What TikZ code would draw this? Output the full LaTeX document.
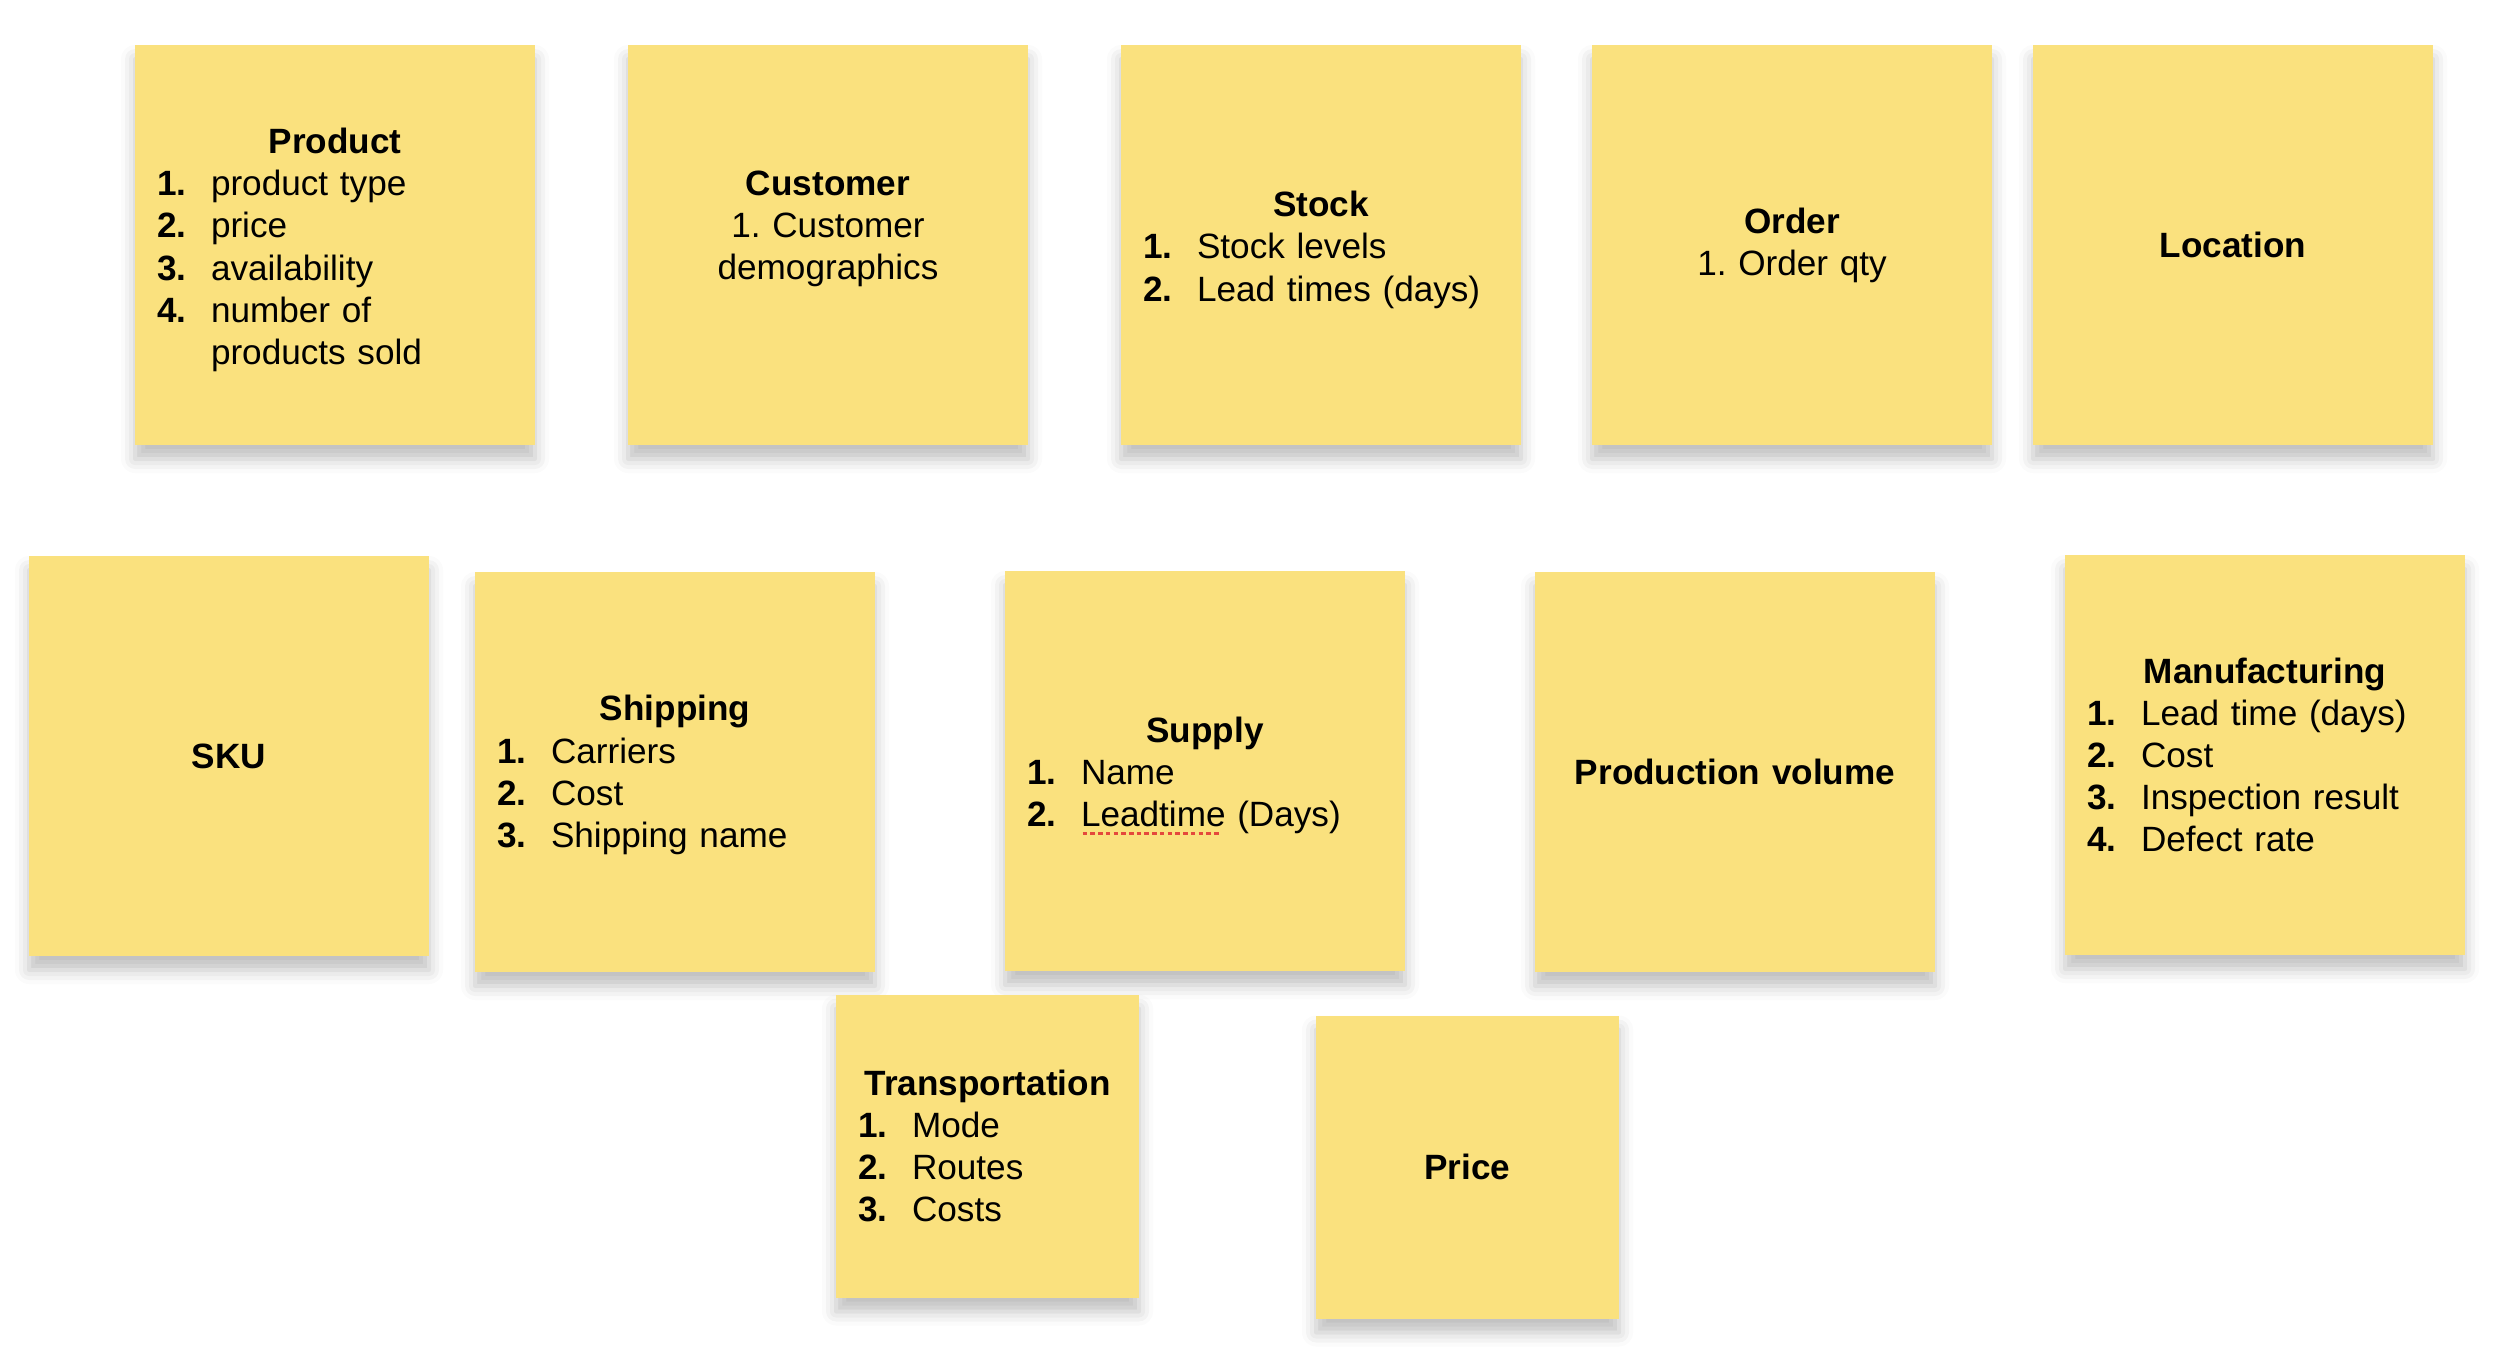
\documentclass[tikz,border=0pt]{standalone}
\usepackage{fontspec}
\setmainfont{Liberation Sans}
\usetikzlibrary{shadows.blur}
\definecolor{notey}{RGB}{250,225,126}
\definecolor{spellred}{RGB}{228,72,60}
\newcommand\ttl[2][0pt]{{\centering\bfseries\rule{0pt}{#1}#2\par}}
\newcommand\itm[2]{\par\noindent\makebox[0.54cm][l]{\bfseries #1.}#2}
\newcommand\cont[1]{\par\noindent\hspace*{0.54cm}#1}
\newcommand\spellmark[1]{\setbox0\hbox{#1}\rlap{\color{spellred}\raisebox{-2.4pt}{\leaders\hbox to 2.2pt{\hss\vrule width 1.3pt height 0.8pt\hss}\hskip\wd0}}#1}
\newcommand\padbelow[1]{\par\kern#1\nointerlineskip\hbox{}}

\begin{document}
\begin{tikzpicture}[
  note/.style={fill=notey, minimum width=4cm, minimum height=4cm, inner sep=0pt,
    text width=3.56cm, align=left, font=\fontsize{10}{12}\selectfont\frenchspacing,
    blur shadow={shadow xshift=0pt, shadow yshift=-0.14cm, shadow blur radius=0.14cm, shadow opacity=25}},
  smallnote/.style={note, minimum width=3.03cm, minimum height=3.03cm, text width=2.59cm}]
 \useasboundingbox (0,0) rectangle (25.04,-13.54); %frame
 % top row
 \node[note] (product) at (3.35,-2.45)
   {\ttl[10pt]{Product}\itm{1}{product type}\itm{2}{price}\itm{3}{availability}\itm{4}{number of}\cont{products sold}};
 \node[note] (customer) at (8.28,-2.45) {\ttl{Customer}{\centering 1. Customer\\demographics\par}\padbelow{9pt}};
 \node[note] (stock) at (13.21,-2.45) {\ttl[10pt]{Stock}\itm{1}{Stock levels}\itm{2}{Lead times (days)}};
 \node[note] (order) at (17.92,-2.45) {\ttl{Order}{\centering 1. Order qty\par}};
 \node[note] (location) at (22.33,-2.45) {\ttl{Location}};
 % middle row
 \node[note] (sku) at (2.29,-7.56) {\ttl{SKU}};
 \node[note] (shipping) at (6.75,-7.72) {\ttl[9pt]{Shipping}\itm{1}{Carriers}\itm{2}{Cost}\itm{3}{Shipping name}};
 \node[note] (supply) at (12.05,-7.71) {\ttl[10pt]{Supply}\itm{1}{Name}\itm{2}{\spellmark{Leadtime} (Days)}};
 \node[note] (production) at (17.35,-7.72) {\ttl{Production volume}};
 \node[note] (manufacturing) at (22.65,-7.55)
   {\ttl{Manufacturing}\itm{1}{Lead time (days)}\itm{2}{Cost}\itm{3}{Inspection result}\itm{4}{Defect rate}};
 % bottom row
 \node[smallnote] (transportation) at (9.875,-11.46) {\ttl{Transportation}\itm{1}{Mode}\itm{2}{Routes}\itm{3}{Costs}};
 \node[smallnote] (price) at (14.675,-11.67) {\ttl{Price}};
\end{tikzpicture}
\end{document}
